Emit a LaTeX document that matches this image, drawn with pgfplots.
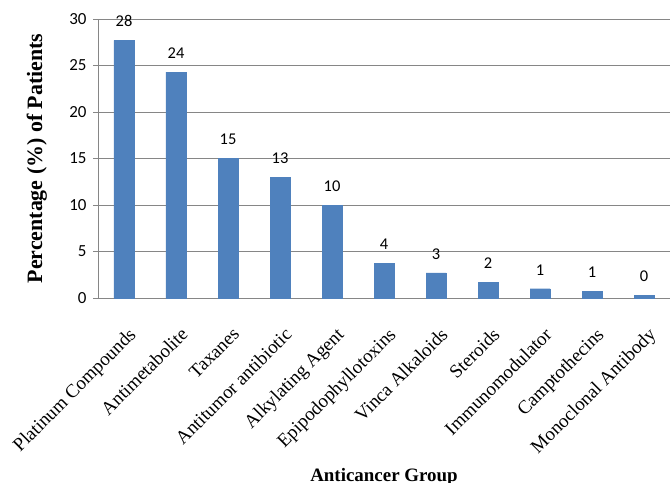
\documentclass[border=0pt]{standalone}
\usepackage{pgfplots}
\pgfplotsset{compat=1.18}
\usepackage{fontspec}
\setmainfont{Liberation Serif}
\newfontfamily\calibri{Carlito}
\definecolor{barblue}{HTML}{4F81BD}
\definecolor{gridgray}{HTML}{868686}

\begin{document}
\begin{tikzpicture}
% fixed page frame around the plot area
\path[use as bounding box] (-98bp,-185bp) rectangle (572bp,298bp);
\begin{axis}[
  at={(0,0)}, anchor=south west,
  scale only axis, width=572bp, height=279bp,
  xmin=-0.5, xmax=10.5, ymin=0, ymax=30,
  ytick={0,5,...,30},
  xtick={0,...,10},
  xticklabels={Platinum Compounds, Antimetabolite, Taxanes, Antitumor antibiotic,
    Alkylating Agent, Epipodophyllotoxins, Vinca Alkaloids, Steroids,
    Immunomodulator, Camptothecins, Monoclonal Antibody},
  axis x line*=bottom, axis y line*=left,
  axis line style={draw=gridgray, line width=0.8bp, -},
  ymajorgrids, grid style={draw=gridgray, line width=0.8bp},
  tick align=outside, major tick length=5bp,
  xtick style={draw=none},
  ytick style={draw=gridgray, line width=0.8bp},
  yticklabel style={font=\calibri\fontsize{17}{19}\selectfont,
    /pgf/number format/assume math mode=true, xshift=-3bp},
  xticklabel style={font=\fontsize{19}{22}\selectfont, rotate=45,
    anchor=north east, inner sep=0pt, xshift=-14bp, yshift=-19bp},
  ylabel={Percentage (\%) of Patients},
  ylabel style={font=\bfseries\fontsize{22}{25}\selectfont,
    at={(axis description cs:-0.107,0.5)}, anchor=center},
  xlabel={Anticancer Group},
  xlabel style={font=\bfseries\fontsize{19}{22}\selectfont,
    at={(axis description cs:0.5,0)}, anchor=base, yshift=-183bp},
]
\addplot[ybar, bar width=20bp, fill=barblue, draw=barblue,
  nodes near coords,
  nodes near coords style={font=\calibri\fontsize{16.5}{19}\selectfont,
    /pgf/number format/.cd, fixed, precision=0, assume math mode=true,
    /tikz/.cd, anchor=south, inner sep=0pt, yshift=13.5bp, text=black}]
  coordinates {(0,27.7) (1,24.3) (2,15.0) (3,13.0) (4,10.0) (5,3.7)
               (6,2.7) (7,1.7) (8,1.0) (9,0.7) (10,0.3)};
\end{axis}
\end{tikzpicture}
\end{document}
